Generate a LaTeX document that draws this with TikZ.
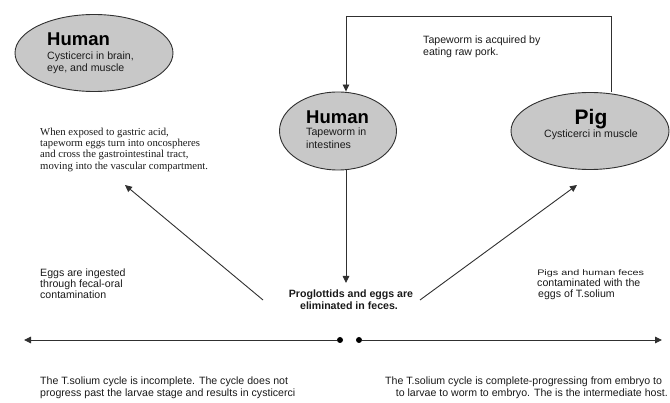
\documentclass[tikz,border=0pt]{standalone}
\usepackage{fontspec}
\setmainfont{Liberation Sans}
\newfontfamily\serifx{Liberation Serif}
\usetikzlibrary{shapes.geometric,arrows.meta,calc}
\definecolor{ellfill}{HTML}{C8C8C8}
\definecolor{linec}{HTML}{303030}
\definecolor{txt}{HTML}{1A1A1A}
\tikzset{
  host/.style={ellipse,draw=linec,line width=0.9pt,fill=ellfill,inner sep=0pt},
  conn/.style={draw=linec,line width=0.9pt,-{Triangle[length=7pt,width=6.5pt]}},
  plain/.style={draw=linec,line width=0.9pt},
  lbl/.style={anchor=base west,inner sep=0pt,text=txt,font=\fontsize{10.6}{12}\selectfont},
  big/.style={anchor=base west,inner sep=0pt,text=black,font=\fontsize{18.5}{20}\selectfont\bfseries},
  serl/.style={anchor=base west,inner sep=0pt,text=txt,font=\serifx\fontsize{10.7}{12}\selectfont},
  dotn/.style={circle,fill=black,inner sep=0pt,minimum size=6pt}
}
\begin{document}
\begin{tikzpicture}[x=1pt,y=-1pt]
\useasboundingbox (0,0) rectangle (670,403);
% ellipses
\node[host,minimum width=158pt,minimum height=77pt] (h1) at (94,53) {};
\node[host,minimum width=117pt,minimum height=78pt] (h2) at (338,131) {};
\node[host,minimum width=158pt,minimum height=77pt] (pig) at (590,131) {};
% ellipse texts
\node[big] (h1t) at (47,46) {Human};
\node[lbl] (h1a) at (47,60) {Cysticerci in brain,};
\node[lbl] (h1b) at (47,72) {eye, and muscle};
\node[big] (h2t) at (306,124) {Human};
\node[lbl] (h2a) at (306,136) {Tapeworm in};
\node[lbl] (h2b) at (306,149) {intestines};
\node[big,anchor=base,font=\fontsize{21}{22}\selectfont\bfseries] (pigt) at (591,125) {Pig};
\node[lbl,anchor=base] (piga) at (591,138) {Cysticerci in muscle};
% top text
\node[lbl] (acq1) at (423,44) {Tapeworm is acquired by};
\node[lbl] (acq2) at (423,56) {eating raw pork.};
% serif text
\node[serl] (s1) at (40,136) {When exposed to gastric acid,};
\node[serl] (s2) at (40,147) {tapeworm eggs turn into oncospheres};
\node[serl] (s3) at (40,158) {and cross the gastrointestinal tract,};
\node[serl] (s4) at (40,170) {moving into the vascular compartment.};
% eggs text
\node[lbl] (e1) at (40,277) {Eggs are ingested};
\node[lbl] (e2) at (40,288) {through fecal-oral};
\node[lbl] (e3) at (40,299) {contamination};
% proglottids
\node[lbl,anchor=base,font=\fontsize{10.6}{12}\selectfont\bfseries] (p1) at (351,298) {Proglottids and eggs are};
\node[lbl,anchor=base,font=\fontsize{10.6}{12}\selectfont\bfseries] (p2) at (349,310) {eliminated in feces.};
% pigs text
\node[lbl,font=\fontsize{8}{9}\selectfont,xscale=1.35,transform shape] (g1) at (537,276) {Pigs and human feces};
\node[lbl] (g2) at (537,287) {contaminated with the};
\node[lbl] (g3) at (538,298) {eggs of T.solium};
% bottom texts
\node[lbl] (b1) at (40,385) {The T.solium cycle is incomplete. The cycle does not};
\node[lbl] (b2) at (40,397) {progress past the larvae stage and results in cysticerci};
\node[lbl] (r1) at (385,385) {The T.solium cycle is complete-progressing from embryo to};
\node[lbl,anchor=base east] (r2) at (668,397) {to larvae to worm to embryo. The is the intermediate host.};
% connectors
\coordinate (c1) at (611,16);
\coordinate (c2) at (346,16);
\draw[plain] (pig.north -| c1) -- (c1) -- (c2);
\draw[conn] (c2) -- (h2.north -| c2);
\coordinate (vx) at (346,0);
\draw[conn] (h2.south -| vx) -- (346,283);
\coordinate (lfrom) at (263,300);
\coordinate (lto) at (125,185);
\coordinate (rfrom) at (420,300);
\coordinate (rto) at (577,185);
\draw[conn] (lfrom) -- (lto);
\draw[conn] (rfrom) -- (rto);
\node[dotn] (d1) at (340,340) {};
\node[dotn] (d2) at (359,340) {};
\coordinate (lend) at (24,340);
\coordinate (rend) at (662,340);
\draw[conn] (d1) -- (lend);
\draw[conn] (d2) -- (rend);
\end{tikzpicture}
\end{document}
